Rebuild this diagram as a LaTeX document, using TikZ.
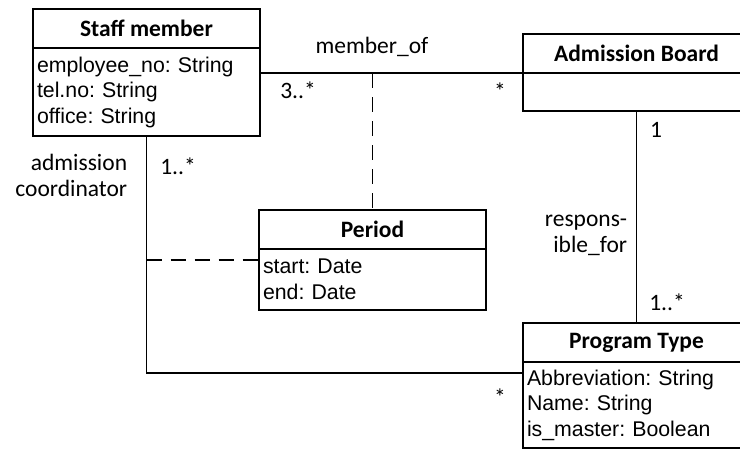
\documentclass[tikz,border=0pt]{standalone}
\usepackage{fontspec}
\setmainfont{Carlito}
\newfontfamily\attrfont{Liberation Sans}
\usetikzlibrary{positioning,calc}
\frenchspacing

\begin{document}
\begin{tikzpicture}[x=1pt, y=-1pt, line width=1.7pt,
  head/.style={draw, anchor=north west, minimum width=227pt, minimum height=39pt,
    inner sep=0pt, outer sep=0pt, font=\fontsize{23.5}{28}\selectfont\bfseries},
  attr/.style={draw, minimum width=227pt, text width=219pt, minimum height=#1,
    inner xsep=4pt, inner ysep=0pt, outer sep=0pt, align=left,
    font=\attrfont\fontsize{21.3}{25.5}\selectfont},
  lbl/.style={inner sep=0pt, font=\fontsize{23.5}{26}\selectfont},
  link/.style={dashed, dash pattern=on 15pt off 9pt}]
\useasboundingbox (0,0) rectangle (740,453);
% Classes
\node[head] (staff) at (33,9) {Staff member};
\node[attr=88pt, below=0pt of staff] (staffattr) {employee\_no: String\\tel.no: String\\office: String};
\node[head] (board) at (523,34) {Admission Board};
\node[attr=38pt, below=0pt of board] (boardattr) {};
\node[head] (period) at (259,210) {Period};
\node[attr=61pt, below=0pt of period] (periodattr) {start: Date\\end: Date};
\node[head] (prog) at (523,323) {Program Type};
\node[attr=86pt, below=0pt of prog] (progattr) {Abbreviation: String\\Name: String\\is\_master: Boolean};

% Associations
\draw (staffattr.east |- boardattr.north west) -- (boardattr.north west);
\draw[link] (period.north |- boardattr.north west) -- (period.north);
\draw (boardattr.south) -- (prog.north);
\coordinate (coordend) at ($(progattr.north west)+(0,11)$);
\draw (staffattr.south) |- (coordend);
\coordinate (linkend) at ($(periodattr.north west)+(0,11)$);
\draw[link] (linkend -| staffattr.south) -- (linkend);

% Labels
\node[lbl] (memberof) at (372,47) {member\_of};
\node[lbl] (mult1) at (298,90) {3..*};
\node[lbl] (mult2) at (500,91) {*};
\node[lbl] (mult3) at (656,130) {1};
\node[lbl] (mult4) at (667,302) {1..*};
\node[lbl, align=right, anchor=east] (resp) at (628,235) {respons-\\ible\_for};
\node[lbl, align=right, anchor=east] (admco) at (128,175) {admission\\coordinator};
\node[lbl] (mult5) at (178,166) {1..*};
\node[lbl] (mult6) at (500,397) {*};
\end{tikzpicture}
\end{document}
